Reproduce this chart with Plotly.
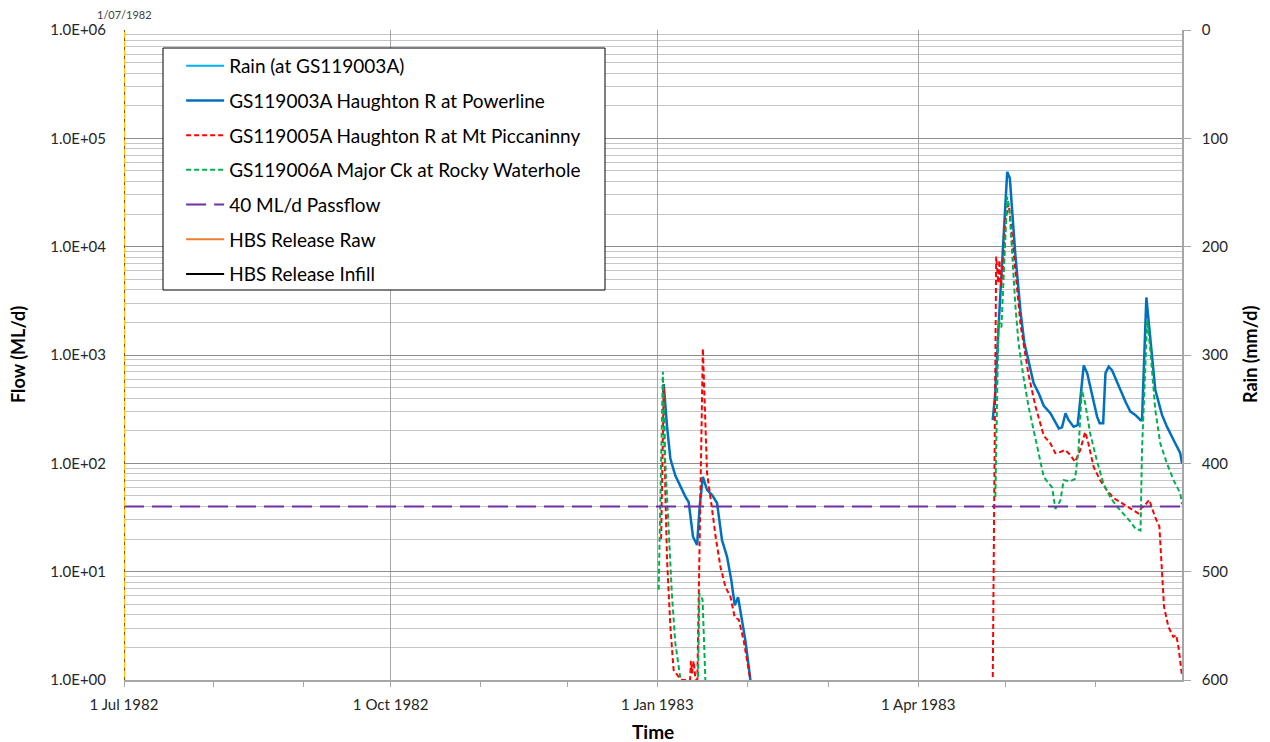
import plotly.graph_objects as go
import pandas as pd

BASE = pd.Timestamp("1983-01-01")

# ---- data: day offsets are days since 1 Jan 1983, flows in ML/d ----
blue_days = [2.0, 2.2, 3.35, 4.5, 6.2, 7.9, 9.7, 10.8, 11.4, 12.3, 13.7, 14.6, 15.7, 17.15,
             18.9, 20.6, 22.3, 24.05, 25.5, 26.7, 27.85, 29.2, 30.4, 32.1,
             70.0,
             115.7, 116.6, 117.7, 118.7, 119.7, 120.7, 121.6, 122.5, 123.5, 125.3, 126.6,
             128.1, 129.8, 131.6, 133.3, 135.6, 136.8, 138.5, 139.6, 140.8, 141.9, 143.6,
             145.0, 147.1, 148.3, 150.0, 151.7, 152.6, 153.8, 154.6, 155.7, 156.9, 158.0,
             159.8, 161.5, 163.2, 164.9, 166.7, 167.2, 168.7, 170.1, 171.8, 174.1, 175.8,
             178.1, 180.4, 181.0]
blue_flow = [450, 540, 218, 110, 77, 61, 49, 44, 32, 21, 17.6, 40, 75, 57,
             51, 43, 19.6, 13.7, 8.4, 4.9, 5.8, 3.6, 2.3, 1.0,
             None,
             250, 450, 1800, 5000, 17000, 49000, 43000, 20000, 8500, 2500, 1300,
             870, 550, 440, 340, 290, 250, 210, 215, 290, 250, 218,
             225, 800, 680, 415, 270, 235, 235, 680, 780, 720, 610,
             475, 370, 300, 280, 250, 250, 3400, 1480, 475, 280, 218,
             164, 124, 100]

red_days = [1.3, 2.2, 2.76, 3.35, 4.5, 5.6, 7.35, 8.5, 11.3, 11.6, 12.0, 12.5, 13.2, 13.8,
            15.7, 17.15, 18.75, 20.1, 21.8, 23.5, 25.2, 26.7, 28.1, 29.8, 32.1,
            70.0,
            115.7, 116.9, 117.6, 118.0, 118.5, 119.2, 120.1, 121.2, 122.1, 123.5, 125.3,
            128.1, 130.4, 133.3, 135.6, 137.3, 139.0, 140.7, 142.4, 144.1, 145.9, 147.6,
            148.7, 150.5, 152.7, 155.0, 157.3, 159.6, 161.9, 164.2, 165.9, 167.1, 168.2,
            169.7, 171.7, 173.2, 174.0, 174.8, 176.3, 178.0, 179.0, 179.8, 181.0]
red_flow = [20, 510, 53, 12.8, 3.1, 1.24, 1.07, 1.0, 1.0, 1.5, 1.15, 1.5, 1.0, 1.0,
            1150, 81, 40, 21, 11, 7.2, 5.9, 3.8, 3.6, 2.3, 1.0,
            None,
            0.9, 8100, 4600, 7500, 4300, 6100, 17600, 25000, 15000, 5700, 1900,
            650, 340, 180, 153, 124, 127, 133, 120, 103, 133, 195,
            153, 93, 70, 57, 48, 44, 40, 37, 34.5, 39, 41,
            46, 32, 26, 11, 4.75, 3.1, 2.5, 2.6, 2.0, 1.1]

green_days = [0.45, 1.9, 2.7, 3.9, 5.0, 6.2, 7.9,
              10.0,
              14.0, 14.5, 15.6, 16.6,
              70.0,
              116.6, 117.7, 118.7, 119.5, 120.7, 121.5, 123.5, 124.6, 126.3, 128.1, 129.8,
              131.6, 133.3, 135.1, 136.2, 137.3, 139.0, 140.2, 142.4, 144.1, 145.3, 146.4,
              147.6, 149.3, 151.6, 153.9, 156.2, 158.5, 160.8, 163.2, 164.9, 166.7, 167.2,
              168.0, 169.0, 170.1, 171.8, 173.5, 175.8, 178.1, 180.4, 181.0]
green_flow = [6.8, 700, 107, 26, 6.3, 2.2, 1.05,
              None,
              0.9, 6.3, 5.5, 0.95,
              None,
              49, 2100, 1800, 5300, 29000, 21500, 2900, 1290, 630, 330, 200,
              115, 75, 65, 60, 38, 45, 70, 68, 72, 133, 475,
              360, 190, 107, 65, 49, 40, 34.5, 29, 25, 24, 133,
              550, 2100, 1100, 310, 153, 100, 70, 53, 42]

pass_days = [-184, 181]
pass_flow = [40, 40]

x_tick_dates = ["1982-07-01", "1982-10-01", "1983-01-01", "1983-04-01"]
x_tick_text = ["1 Jul 1982", "1 Oct 1982", "1 Jan 1983", "1 Apr 1983"]
x_minor_dates = ["1982-08-01", "1982-09-01", "1982-11-01", "1982-12-01", "1983-02-01",
                 "1983-03-01", "1983-05-01", "1983-06-01"]
y_tick_vals = [1, 10, 100, 1000, 10000, 100000, 1000000]
y_tick_text = ["1.0E+00", "1.0E+01", "1.0E+02", "1.0E+03", "1.0E+04", "1.0E+05", "1.0E+06"]
y_minor_vals = [m * 10 ** e for e in range(6) for m in range(2, 10)]
rain_tick_vals = [0, 100, 200, 300, 400, 500, 600]


def to_dates(days):
    return [BASE + pd.Timedelta(days=d) for d in days]


FONT = "Lato, Open Sans, sans-serif"
fig = go.Figure()

fig.add_trace(go.Scatter(x=[None], y=[None], mode="lines", name="Rain (at GS119003A)",
                         line=dict(color="#00B0F0", width=2), yaxis="y2", legendgroup="a"))
fig.add_trace(go.Scatter(x=to_dates(blue_days), y=blue_flow, mode="lines",
                         name="GS119003A Haughton R at Powerline",
                         line=dict(color="#0070C0", width=2.5), legendgroup="b"))
fig.add_trace(go.Scatter(x=to_dates(red_days), y=red_flow, mode="lines",
                         name="GS119005A Haughton R at Mt Piccaninny",
                         line=dict(color="#FF0000", width=2, dash="5px,3px"), legendgroup="c"))
fig.add_trace(go.Scatter(x=to_dates(green_days), y=green_flow, mode="lines",
                         name="GS119006A Major Ck at Rocky Waterhole",
                         line=dict(color="#00B050", width=2, dash="5px,3px"), legendgroup="d"))
fig.add_trace(go.Scatter(x=to_dates(pass_days), y=pass_flow, mode="lines",
                         name="40 ML/d Passflow",
                         line=dict(color="#7030A0", width=2, dash="20px,8px"), legendgroup="e"))
fig.add_trace(go.Scatter(x=[None], y=[None], mode="lines", name="HBS Release Raw",
                         line=dict(color="#ED7D31", width=2), legendgroup="f"))
fig.add_trace(go.Scatter(x=[None], y=[None], mode="lines", name="HBS Release Infill",
                         line=dict(color="#000000", width=2), legendgroup="g"))

fig.update_layout(
    width=1270, height=742,
    margin=dict(l=124, r=88, t=30, b=62),
    paper_bgcolor="white", plot_bgcolor="white",
    font=dict(family=FONT, size=15, color="#262626"),
    showlegend=True,
    legend=dict(x=0.054, y=0.974, xanchor="left", yanchor="top",
                bgcolor="rgba(0,0,0,0)", borderwidth=0,
                font=dict(family=FONT, size=19, color="#000000"),
                tracegroupgap=7, itemwidth=38),
    xaxis=dict(type="date", range=["1982-07-01", "1983-07-01"],
               tickmode="array", tickvals=x_tick_dates, ticktext=x_tick_text,
               showgrid=True, gridcolor="#A6A6A6", gridwidth=1,
               ticks="outside", ticklen=5, tickcolor="#A6A6A6",
               showline=True, linecolor="#A6A6A6", linewidth=2,
               minor=dict(tickvals=x_minor_dates, ticks="outside", ticklen=5,
                          tickcolor="#A6A6A6", showgrid=False),
               ticklabelstandoff=5, zeroline=False),
    yaxis=dict(type="log", range=[0, 6], tickmode="array",
               tickvals=y_tick_vals, ticktext=y_tick_text,
               showgrid=True, gridcolor="#8C8C8C", gridwidth=1,
               minor=dict(tickvals=y_minor_vals, showgrid=True, gridcolor="#C6C6C6",
                          gridwidth=1),
               showline=False, ticks="", ticklabelstandoff=17, zeroline=False),
    yaxis2=dict(overlaying="y", side="right", range=[600, 0],
                tickmode="array", tickvals=rain_tick_vals,
                showgrid=False, zeroline=False,
                showline=True, linecolor="#A6A6A6", linewidth=1.5,
                ticks="outside", ticklen=7, tickcolor="#A6A6A6",
                ticklabelstandoff=8),
)

# legend frame
fig.add_shape(type="rect", xref="paper", yref="paper",
              x0=(163 - 124) / 1058, x1=(605 - 124) / 1058,
              y0=(680 - 290) / 650, y1=(680 - 48) / 650,
              line=dict(color="#000000", width=1), fillcolor="white", layer="above")
# marker line at 1/07/1982
fig.add_shape(type="line", xref="x", yref="paper", x0="1982-07-01", x1="1982-07-01",
              y0=0, y1=1, line=dict(color="#FFC000", width=2.5), layer="above")
fig.add_shape(type="line", xref="x", yref="paper", x0="1982-07-01", x1="1982-07-01",
              y0=0, y1=1, line=dict(color="#000000", width=1, dash="3px,6px"), layer="above")

fig.add_annotation(x="1982-07-01", y=1, xref="x", yref="paper", yanchor="middle",
                   yshift=16, text="1/07/1982", showarrow=False,
                   font=dict(family=FONT, size=11, color="#404040"))
fig.add_annotation(text="<b>Flow (ML/d)</b>", x=0, y=0.5, xref="paper", yref="paper",
                   xanchor="center", yanchor="middle", xshift=-106, showarrow=False,
                   textangle=-90, font=dict(family=FONT, size=18, color="#000"))
fig.add_annotation(text="<b>Rain (mm/d)</b>", x=1.0, y=0.5, xref="paper", yref="paper",
                   xanchor="center", yanchor="middle", xshift=68, showarrow=False,
                   textangle=-90, font=dict(family=FONT, size=18, color="#000"))
fig.add_annotation(text="<b>Time</b>", x=0.5, y=0, xref="paper", yref="paper",
                   xanchor="center", yanchor="middle", yshift=-51, showarrow=False,
                   font=dict(family=FONT, size=19, color="#000"))

fig.write_html("out.html")
